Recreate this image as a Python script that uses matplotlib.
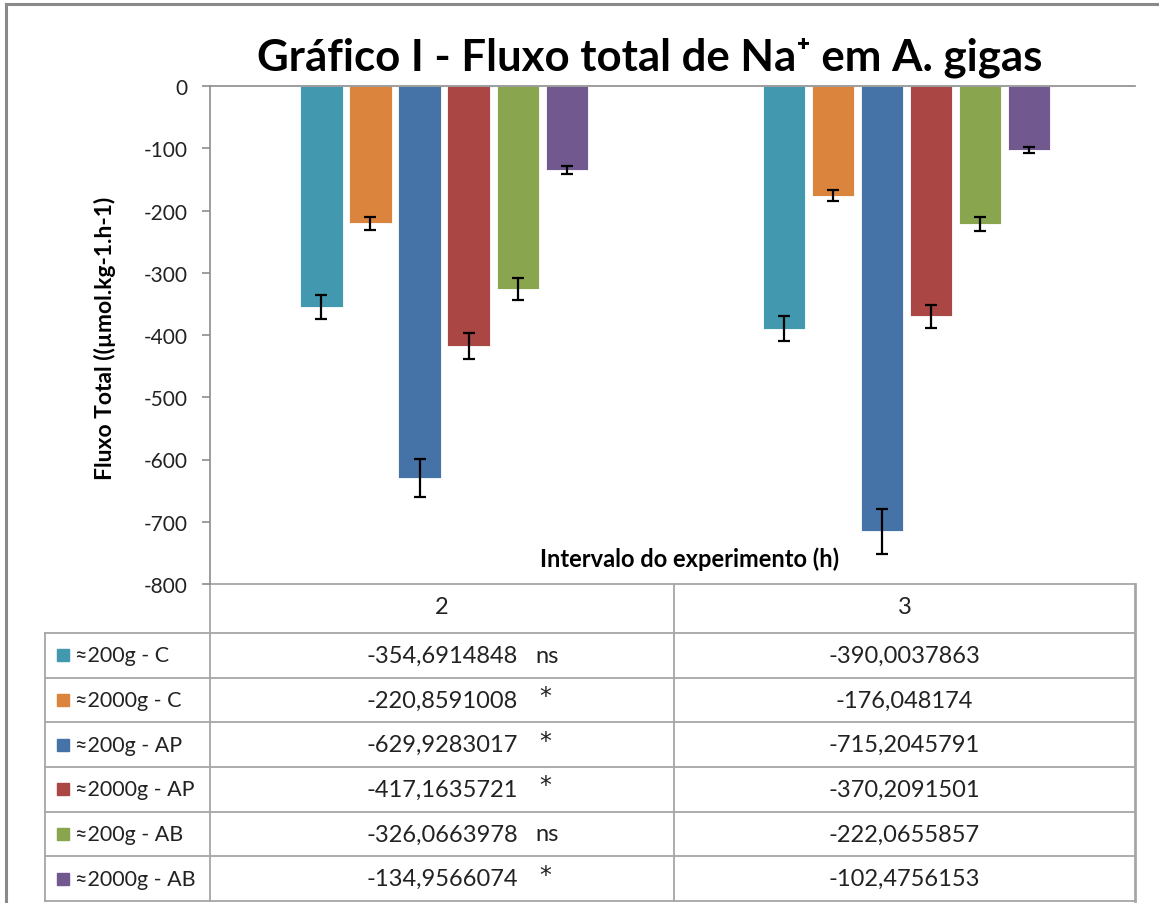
import numpy as np
import matplotlib.pyplot as plt
from matplotlib.patches import Rectangle

plt.rcParams['font.family'] = ['Lato', 'DejaVu Sans']

# data
intervals = ['2', '3']
series = ['≈200g - C', '≈2000g - C', '≈200g - AP', '≈2000g - AP', '≈200g - AB', '≈2000g - AB']
flux_h2 = [-354.6914848, -220.8591008, -629.9283017, -417.1635721, -326.0663978, -134.9566074]
flux_h3 = [-390.0037863, -176.048174, -715.2045791, -370.2091501, -222.0655857, -102.4756153]
err_h2 = [19, 10.5, 31, 21, 17, 6.5]
err_h3 = [20, 9, 36, 19, 11, 5]
sig_h2 = ['ns', '*', '*', '*', 'ns', '*']
labels_h2 = ['-354,6914848', '-220,8591008', '-629,9283017', '-417,1635721', '-326,0663978', '-134,9566074']
labels_h3 = ['-390,0037863', '-176,048174', '-715,2045791', '-370,2091501', '-222,0655857', '-102,4756153']
colors = ['#4198AF', '#DB843D', '#4572A7', '#AA4643', '#89A54E', '#71588F']

W, H = 1159, 904
fig = plt.figure(figsize=(W / 100, H / 100), dpi=100)

# plot area in pixel terms
px_l, px_r, px_t, px_b = 210, 1135, 87, 585
ax = fig.add_axes([px_l / W, 1 - px_b / H, (px_r - px_l) / W, (px_b - px_t) / H])

x = np.arange(len(intervals))
pitch = 0.106
bw = 0.091
for i, name in enumerate(series):
    pos = x + (i - 2.5) * pitch + 0.006
    vals = [flux_h2[i], flux_h3[i]]
    errs = [err_h2[i], err_h3[i]]
    ax.bar(pos, vals, width=bw, color=colors[i], edgecolor='#ffffff', linewidth=0.6, zorder=2)
    ax.errorbar(pos, vals, yerr=errs, fmt='none', ecolor='black', elinewidth=1.6,
                capsize=4.5, capthick=1.6, zorder=3)

ax.set_xlim(-0.5, 1.5)
ax.set_ylim(-800, 0)
ax.set_yticks(np.arange(-800, 1, 100))
ax.set_yticklabels([str(v) for v in np.arange(-800, 1, 100)], fontsize=15, color='#222222')
ax.set_xticks([])
for s in ['right', 'bottom']:
    ax.spines[s].set_visible(False)
ax.spines['left'].set_color('#8c8c8c')
ax.spines['top'].set_color('#8c8c8c')
ax.spines['left'].set_linewidth(1.2)
ax.spines['top'].set_linewidth(1.2)
ax.tick_params(axis='y', length=6, width=1.2, color='#8c8c8c', pad=10)
ax.set_facecolor('none')

# overlay axes for title, labels and data table (pixel coords)
ov = fig.add_axes([0, 0, 1, 1], zorder=-1)
ov.set_xlim(0, W)
ov.set_ylim(H, 0)
ov.axis('off')

gray = '#a6a6a6'
# outer chart border
ov.plot([6, 6], [5, H + 5], color='#8a8a8a', lw=2.2)
ov.plot([6, W + 5], [5, 5], color='#8a8a8a', lw=2.2)

fig.text(650 / W, 1 - 58 / H, 'Gráfico I - Fluxo total de Na⁺ em A. gigas',
         ha='center', va='center', fontsize=31.5, fontweight='bold')
fig.text(105 / W, 1 - 338 / H, 'Fluxo Total ((µmol.kg-1.h-1)', rotation=90,
         ha='center', va='center', fontsize=16.5, fontweight='bold')
fig.text(690 / W, 1 - 559 / H, 'Intervalo do experimento (h)',
         ha='center', va='center', fontsize=17, fontweight='bold')

# data table
row_top = 634
row_h = (902 - 634) / 6
lw = 1.3
ov.plot([px_l, px_r], [px_b, px_b], color=gray, lw=lw)
ov.plot([px_l, px_l], [px_b, 902], color=gray, lw=lw)
ov.plot([674, 674], [px_b, 902], color=gray, lw=lw)
ov.plot([1135, 1135], [px_b, 902], color=gray, lw=2)
ov.plot([45, 45], [row_top, 902], color=gray, lw=lw)
for k in range(7):
    yy = row_top + k * row_h
    ov.plot([45, 1135], [yy, yy], color=gray, lw=lw)

c2 = (210 + 674) / 2
c3 = (674 + 1135) / 2
fs = 17
ov.text(c2, 608, intervals[0], ha='center', va='center', fontsize=fs, color='#222222')
ov.text(c3, 608, intervals[1], ha='center', va='center', fontsize=fs, color='#222222')

for i, name in enumerate(series):
    yc = row_top + (i + 0.5) * row_h
    ov.add_patch(Rectangle((57, yc - 6), 12, 12, color=colors[i]))
    ov.text(75, yc, name, ha='left', va='center', fontsize=15.5, color='#222222')
    ov.text(c2, yc, labels_h2[i], ha='center', va='center', fontsize=fs, color='#222222')
    if sig_h2[i] == 'ns':
        ov.text(535, yc, sig_h2[i], ha='left', va='center', fontsize=fs, color='#222222')
    else:
        ov.text(539, yc - 4, sig_h2[i], ha='left', va='center', fontsize=fs,
                family='DejaVu Sans', color='#222222')
    ov.text(c3, yc, labels_h3[i], ha='center', va='center', fontsize=fs, color='#222222')

fig.savefig('out.png', dpi=100)
